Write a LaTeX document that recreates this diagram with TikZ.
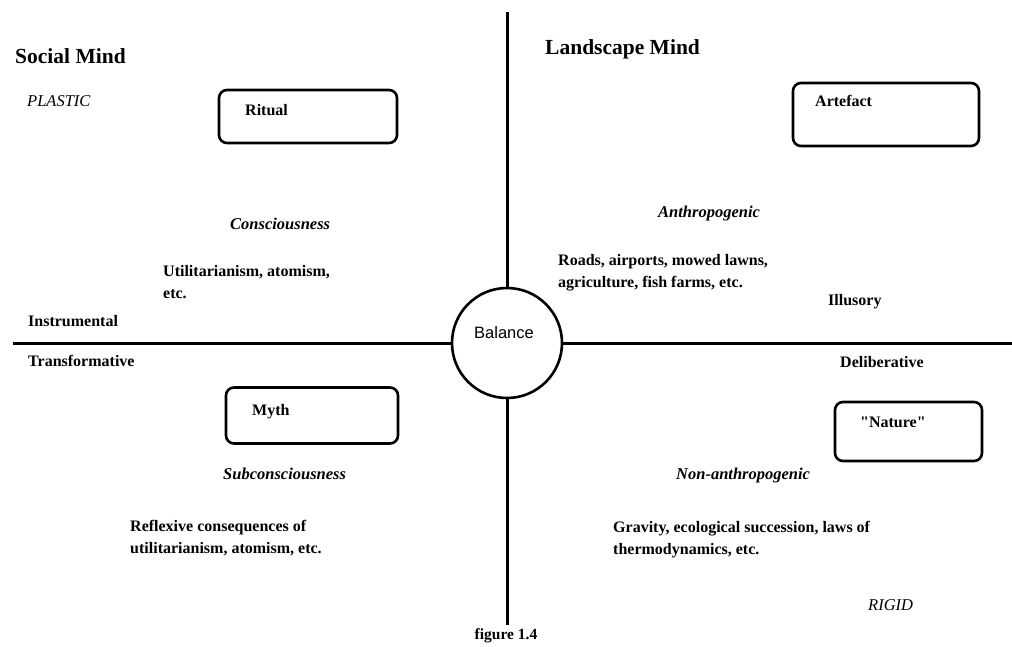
\documentclass[tikz,border=0pt]{standalone}
\usepackage{fontspec}
\setmainfont{Liberation Serif}
\newfontfamily\arialfont{Liberation Sans}
\newfontfamily\straightq{Liberation Serif}
\begin{document}
\begin{tikzpicture}[x=1pt,y=-1pt,
  lbl/.style={anchor=west,inner sep=0pt,font=\fontsize{16}{22}\selectfont\bfseries,align=left},
  ttl/.style={anchor=west,inner sep=0pt,font=\fontsize{21.5}{24}\selectfont\bfseries},
  itl/.style={anchor=west,inner sep=0pt,font=\fontsize{16.5}{20}\selectfont\bfseries\itshape},
  caps/.style={anchor=west,inner sep=0pt,font=\fontsize{16.5}{20}\selectfont\itshape},
  rbox/.style={draw,line width=2.6pt,rounded corners=8pt,inner sep=0pt},
  axis/.style={line width=3pt}]
\useasboundingbox (0,0) rectangle (1012,647);
% axes and centre
\node[draw,circle,line width=2.6pt,minimum size=110pt,inner sep=0pt] (bal) at (507,343) {};
\node[inner sep=0pt,font=\fontsize{16.5}{20}\selectfont\arialfont] (baltxt) at (504,333) {Balance};
\coordinate (vt) at (507,12);
\coordinate (vb) at (507,625);
\coordinate (hl) at (13,343);
\coordinate (hr) at (1012,343);
\draw[axis] (vt) -- (bal);
\draw[axis] (bal) -- (vb);
\draw[axis] (hl) -- (bal);
\draw[axis] (bal) -- (hr);
% titles
\node[ttl] (social) at (15,56) {Social Mind};
\node[ttl] (landscape) at (545,49) {Landscape Mind};
\node[caps] (plastic) at (27,101) {PLASTIC};
\node[caps] (rigid) at (868,605) {RIGID};
% boxes
\node[rbox,minimum width=178pt,minimum height=53pt] (ritualbox) at (308,116.5) {};
\node[lbl] (ritual) at (245,110) {Ritual};
\node[rbox,minimum width=186pt,minimum height=63pt] (artbox) at (886,114.5) {};
\node[lbl] (artefact) at (815,101) {Artefact};
\node[rbox,minimum width=172pt,minimum height=56pt] (mythbox) at (312,415.5) {};
\node[lbl] (myth) at (252,412) {Myth};
\node[rbox,minimum width=147pt,minimum height=59pt] (natbox) at (908.5,431.5) {};
\node[lbl] (nature) at (860,422) {\straightq\bfseries "Nature"};
% quadrant labels
\node[itl] (conscious) at (230,224) {Consciousness};
\node[lbl] (util) at (163,282) {Utilitarianism, atomism,\\etc.};
\node[lbl] (instr) at (28,321) {Instrumental};
\node[lbl] (transf) at (28,361) {Transformative};
\node[itl] (anthro) at (658,214) {Anthropogenic};
\node[lbl] (roads) at (558,272.5) {Roads, airports, mowed lawns,\\agriculture, fish farms, etc.};
\node[lbl] (illus) at (828,302) {Illusory};
\node[lbl] (delib) at (840,362) {Deliberative};
\node[itl] (subcon) at (223,474) {Subconsciousness};
\node[lbl] (reflex) at (130,538) {Reflexive consequences of\\utilitarianism, atomism, etc.};
\node[itl] (nonanthro) at (676,476) {Non-anthropogenic};
\node[lbl] (gravity) at (613,540) {Gravity, ecological succession, laws of\\thermodynamics, etc.};
\node[inner sep=0pt,font=\fontsize{15.5}{18}\selectfont\bfseries] (fig) at (506,636) {figure 1.4};
\end{tikzpicture}
\end{document}
